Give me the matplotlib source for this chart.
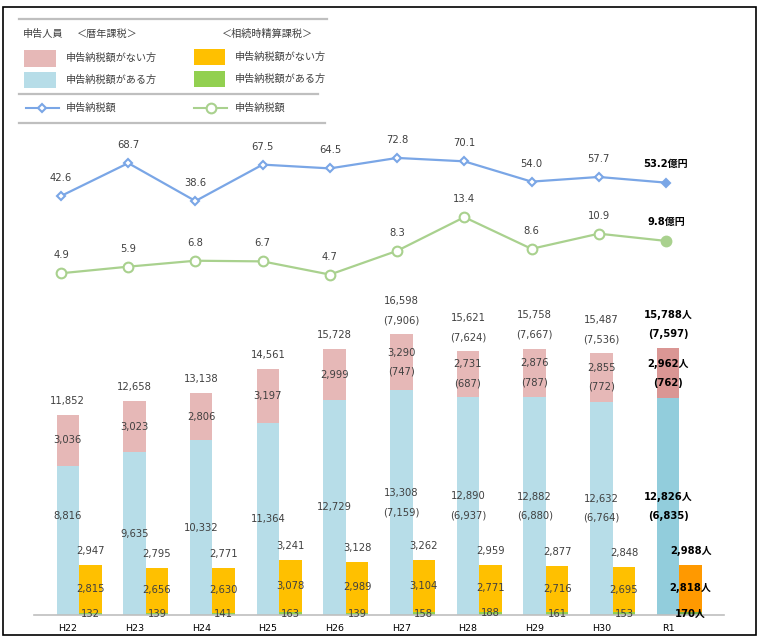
import matplotlib
matplotlib.use('Agg')
import matplotlib.pyplot as plt
from matplotlib.patches import Rectangle
from matplotlib.lines import Line2D
import numpy as np

# ---------------- data ----------------
categories = ['H22', 'H23', 'H24', 'H25', 'H26', 'H27', 'H28', 'H29', 'H30', 'R1']
cal_total = [11852, 12658, 13138, 14561, 15728, 16598, 15621, 15758, 15487, 15788]
cal_notax = [3036, 3023, 2806, 3197, 2999, 3290, 2731, 2876, 2855, 2962]
cal_tax = [8816, 9635, 10332, 11364, 12729, 13308, 12890, 12882, 12632, 12826]
cal_total_sub = [None, None, None, None, None, 7906, 7624, 7667, 7536, 7597]
cal_notax_sub = [None, None, None, None, None, 747, 687, 787, 772, 762]
cal_tax_sub = [None, None, None, None, None, 7159, 6937, 6880, 6764, 6835]
set_total = [2947, 2795, 2771, 3241, 3128, 3262, 2959, 2877, 2848, 2988]
set_notax = [2815, 2656, 2630, 3078, 2989, 3104, 2771, 2716, 2695, 2818]
set_tax = [132, 139, 141, 163, 139, 158, 188, 161, 153, 170]
cal_amount = [42.6, 68.7, 38.6, 67.5, 64.5, 72.8, 70.1, 54.0, 57.7, 53.2]
set_amount = [4.9, 5.9, 6.8, 6.7, 4.7, 8.3, 13.4, 8.6, 10.9, 9.8]

# ---------------- style ----------------
PINK, PINK_L = '#e6b8b7', '#da9694'
BLUE, BLUE_L = '#b7dde8', '#92cddc'
ORANGE, ORANGE_L = '#ffc000', '#ff9900'
GREEN, GREEN_L = '#92d050', '#70ad47'
LINE_BLUE = '#7aa6e6'
LINE_GREEN = '#a9d18e'
TXT = '#404040'
NUMFONT = ['DejaVu Sans', 'Noto Sans CJK JP']
JPFONT = ['Noto Sans CJK JP', 'DejaVu Sans']
NUMSIZE = 7.2

W, H = 762, 641
fig = plt.figure(figsize=(W / 100, H / 100), dpi=100)


def rect(l, t, r, b):
    return [l / W, 1 - b / H, (r - l) / W, (b - t) / H]


# ---------------- decoration axes (frame + legend) ----------------
deco = fig.add_axes([0, 0, 1, 1])
deco.set_xlim(0, W)
deco.set_ylim(H, 0)
deco.axis('off')
deco.add_patch(Rectangle((3, 7), 753, 628, fill=False, ec='black', lw=1.2))
for y0, x1 in [(19, 327), (94, 318), (123, 325)]:
    deco.add_line(Line2D([19, x1], [y0, y0], color='#bfbfbf', lw=1.6))

deco.text(23, 34, '申告人員', family=JPFONT, fontsize=7.3, color=TXT, va='center')
deco.text(77, 34, '＜暦年課税＞', family=JPFONT, fontsize=7.3, color=TXT, va='center')
deco.text(222, 34, '＜相続時精算課税＞', family=JPFONT, fontsize=7.3, color=TXT, va='center')
deco.add_patch(Rectangle((24, 50), 32, 17, color=PINK, lw=0))
deco.add_patch(Rectangle((24, 72), 32, 16, color=BLUE, lw=0))
deco.add_patch(Rectangle((194, 49), 31, 16, color=ORANGE, lw=0))
deco.add_patch(Rectangle((194, 71), 31, 16, color=GREEN, lw=0))
deco.text(66, 58, '申告納税額がない方', family=JPFONT, fontsize=7.3, color=TXT, va='center')
deco.text(66, 80, '申告納税額がある方', family=JPFONT, fontsize=7.3, color=TXT, va='center')
deco.text(235, 57, '申告納税額がない方', family=JPFONT, fontsize=7.3, color=TXT, va='center')
deco.text(235, 79, '申告納税額がある方', family=JPFONT, fontsize=7.3, color=TXT, va='center')
deco.add_line(Line2D([26, 59], [108, 108], color=LINE_BLUE, lw=1.5))
deco.plot([42], [108], 'D', ms=4.3, mfc='white', mec=LINE_BLUE, mew=1.5)
deco.add_line(Line2D([194, 227], [108, 108], color=LINE_GREEN, lw=1.5))
deco.plot([211], [108], 'o', ms=7, mfc='white', mec=LINE_GREEN, mew=1.5)
deco.text(66, 108, '申告納税額', family=JPFONT, fontsize=7.3, color=TXT, va='center')
deco.text(235, 108, '申告納税額', family=JPFONT, fontsize=7.3, color=TXT, va='center')

# ---------------- bar axes ----------------
ax = fig.add_axes(rect(34, 135, 724, 615))
ax.patch.set_alpha(0)
n = len(categories)
x = np.arange(n)
step = 66.7
ax.set_xlim((34 - 67.8) / step, (724 - 67.8) / step)
ax.set_ylim(0, 480 / 0.0169)
w = 0.337

last = n - 1
blue_c = [BLUE] * last + [BLUE_L]
pink_c = [PINK] * last + [PINK_L]
orange_c = [ORANGE] * last + [ORANGE_L]
green_c = [GREEN] * last + [GREEN_L]

ax.bar(x, cal_tax, width=w, color=blue_c, lw=0)
ax.bar(x, cal_notax, width=w, bottom=cal_tax, color=pink_c, lw=0)
ax.bar(x + w, set_tax, width=w, color=green_c, lw=0)
ax.bar(x + w, set_notax, width=w, bottom=set_tax, color=orange_c, lw=0)

for s in ['top', 'left', 'right']:
    ax.spines[s].set_visible(False)
ax.spines['bottom'].set_color('#bfbfbf')
ax.spines['bottom'].set_linewidth(1.2)
ax.set_yticks([])
ax.set_xticks(x, categories)
ax.tick_params(axis='x', length=0, pad=6.8, labelsize=6.8, labelcolor='black')


def fmt(v, i, unit=True):
    s = f'{v:,}'
    if i == last and unit:
        s += '人'
    return s


def put(xv, yv, text, dy, i):
    bold = (i == last)
    ax.annotate(text, (xv, yv), xytext=(0, dy), textcoords='offset points',
                ha='center', va='center', fontsize=NUMSIZE,
                family=NUMFONT, color='black' if bold else TXT,
                fontweight='bold' if bold else 'normal')


def put_pair(xv, yv, main, sub, i, base_dy=0.0, mode='center'):
    if sub is None:
        put(xv, yv, main, base_dy, i)
    else:
        if mode == 'center':
            put(xv, yv, main, base_dy + 6.9, i)
            put(xv, yv, f'({sub:,})', base_dy - 6.9, i)
        else:  # above
            put(xv, yv, main, base_dy + 14, i)
            put(xv, yv, f'({sub:,})', base_dy, i)


for i in range(n):
    # calendar-year totals above the stack
    put_pair(x[i], cal_total[i], fmt(cal_total[i], i), cal_total_sub[i], i,
             base_dy=10, mode='above')
    # pink segment
    put_pair(x[i], cal_tax[i] + cal_notax[i] / 2, fmt(cal_notax[i], i),
             cal_notax_sub[i], i)
    # blue segment (first one nudged up to clear the neighbouring label)
    nudge = 18 if i == 0 else 0
    put_pair(x[i], cal_tax[i] / 2, fmt(cal_tax[i], i), cal_tax_sub[i], i,
             base_dy=nudge)
    # settlement bar
    put(x[i] + w, set_total[i], fmt(set_total[i], i), 10, i)
    put(x[i] + w, set_tax[i] + set_notax[i] / 2, fmt(set_notax[i], i), 0, i)
    put(x[i] + w, set_tax[i] / 2, fmt(set_tax[i], i), 0, i)

# ---------------- line axes ----------------
lstep = 67.22
lxlim = ((34 - 61) / lstep, (724 - 61) / lstep)


def line_axes(vals, ylim, color, marker, ms):
    la = fig.add_axes(rect(34, 135, 724, 615))
    la.patch.set_alpha(0)
    la.axis('off')
    la.set_xlim(*lxlim)
    la.set_ylim(*ylim)
    la.plot(x, vals, color=color, lw=1.6, zorder=2)
    la.plot(x[:-1], vals[:-1], marker, ms=ms, mfc='white', mec=color, mew=1.5,
            ls='none', zorder=3)
    la.plot(x[-1:], vals[-1:], marker, ms=ms, mfc=color, mec=color, mew=1.5,
            ls='none', zorder=3)
    for i, v in enumerate(vals):
        if i == last:
            la.annotate(f'{v:.1f}億円', (x[i], v), xytext=(0, 13.5),
                        textcoords='offset points', ha='center', va='center',
                        fontsize=NUMSIZE, family=NUMFONT, color='black',
                        fontweight='bold')
        else:
            la.annotate(f'{v:.1f}', (x[i], v), xytext=(0, 13),
                        textcoords='offset points', ha='center', va='center',
                        fontsize=NUMSIZE, family=NUMFONT, color=TXT)
    return la


line_axes(cal_amount, (-289.9, 91.0), LINE_BLUE, 'D', 4.3)
line_axes(set_amount, (-46.88, 25.85), LINE_GREEN, 'o', 7)

fig.savefig('out.png', dpi=100)
